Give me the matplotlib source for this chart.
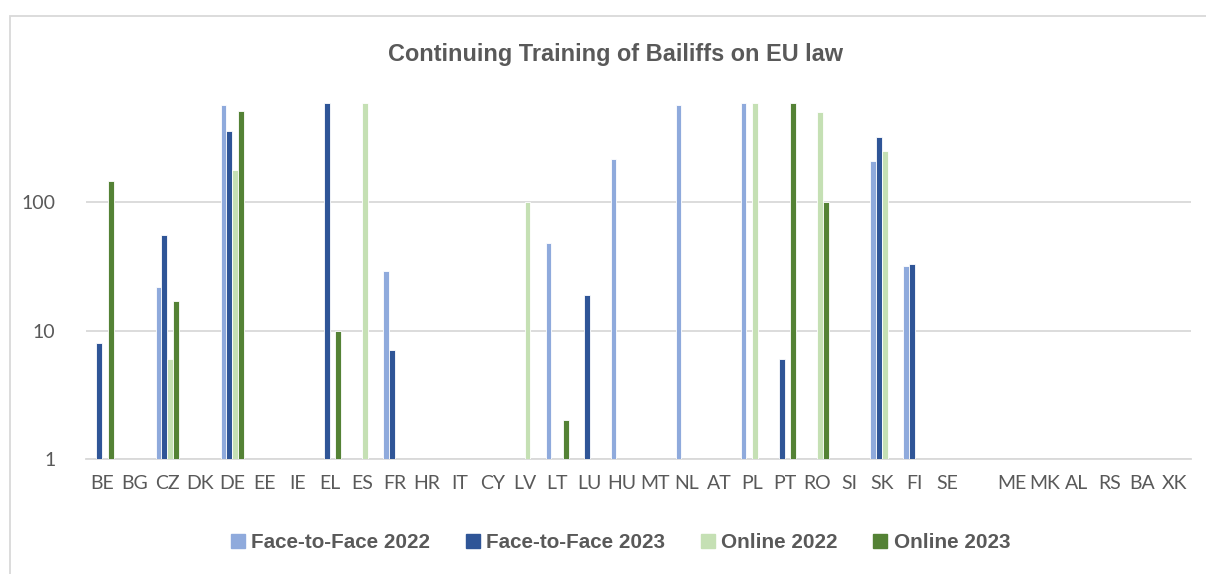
import numpy as np
import matplotlib
matplotlib.use("Agg")
import matplotlib.pyplot as plt
from matplotlib.patches import Rectangle
from matplotlib.lines import Line2D

plt.rcParams['font.family'] = ['Lato', 'DejaVu Sans']

# data (None = no bar)
countries = ["BE", "BG", "CZ", "DK", "DE", "EE", "IE", "EL", "ES", "FR", "HR", "IT",
             "CY", "LV", "LT", "LU", "HU", "MT", "NL", "AT", "PL", "PT", "RO", "SI",
             "SK", "FI", "SE", "", "ME", "MK", "AL", "RS", "BA", "XK"]

f2f_2022 = {"CZ": 22, "DE": 580, "FR": 29, "LT": 48, "HU": 220, "NL": 580,
            "PL": 600, "SK": 210, "FI": 32}
f2f_2023 = {"BE": 8, "CZ": 56, "DE": 360, "EL": 600, "FR": 7, "LU": 19,
            "PT": 6, "SK": 325, "FI": 33}
online_2022 = {"CZ": 6, "DE": 180, "ES": 600, "LV": 100, "PL": 600, "RO": 510,
               "SK": 250}
online_2023 = {"BE": 148, "CZ": 17, "DE": 520, "EL": 10, "LT": 2, "PT": 600,
               "RO": 100}

series_names = ["Face-to-Face 2022", "Face-to-Face 2023", "Online 2022", "Online 2023"]
series_data = [f2f_2022, f2f_2023, online_2022, online_2023]
colors = ["#8FAADC", "#2F5597", "#C5E0B4", "#548235"]

grey = "#595959"
bold_font = ["Liberation Sans", "DejaVu Sans"]

fig = plt.figure(figsize=(12.06, 5.74), dpi=100)
ax = fig.add_axes([86/1206, 115.3/574, (1190.7-86)/1206, (458.7-102.7)/574])

x = np.arange(len(countries))
w = 0.178
for i, (d, c, name) in enumerate(zip(series_data, colors, series_names)):
    vals = np.array([d.get(k, np.nan) for k in countries], dtype=float)
    ax.bar(x + (i - 1.5) * w, vals, width=w, color=c, edgecolor="white",
           linewidth=0.6, label=name, zorder=3)

ax.set_yscale("log")
ax.set_ylim(1, 600)
ax.set_xlim(-0.5, len(countries) - 0.5)
ax.set_yticks([1, 10, 100])
ax.set_yticklabels(["1", "10", "100"])
ax.minorticks_off()
ax.yaxis.grid(True, color="#D9D9D9", linewidth=1.3, zorder=0)
ax.set_xticks(x)
ax.set_xticklabels(countries)
ax.tick_params(axis="both", length=0, labelsize=14, colors=grey)
ax.tick_params(axis="x", pad=12)
ax.tick_params(axis="y", pad=22)
for s in ["top", "right", "left"]:
    ax.spines[s].set_visible(False)
ax.spines["bottom"].set_color("#D9D9D9")
ax.spines["bottom"].set_linewidth(1.3)

fig.text(615.5/1206, 1 - 55/574, "Continuing Training of Bailiffs on EU law",
         ha="center", va="center", fontsize=16.9, fontweight="bold", color=grey,
         family=bold_font)

handles = [Line2D([], [], marker="s", linestyle="none", markersize=10,
                  markerfacecolor=c, markeredgecolor=c) for c in colors]
leg = fig.legend(handles, series_names, loc="center", bbox_to_anchor=(619/1206, 1 - 543/574),
                 ncol=4, frameon=False, handletextpad=0.13, columnspacing=1.57,
                 handlelength=1.0,
                 prop={"size": 14.9, "weight": "bold", "family": bold_font})
for t in leg.get_texts():
    t.set_color(grey)

# chart border
fig.patches.append(Rectangle((10/1206, -0.1), 1.2, 1 - 16/574 + 0.1, transform=fig.transFigure,
                             fill=False, edgecolor="#D9D9D9", linewidth=1.3))

fig.savefig("out.png", dpi=100)
